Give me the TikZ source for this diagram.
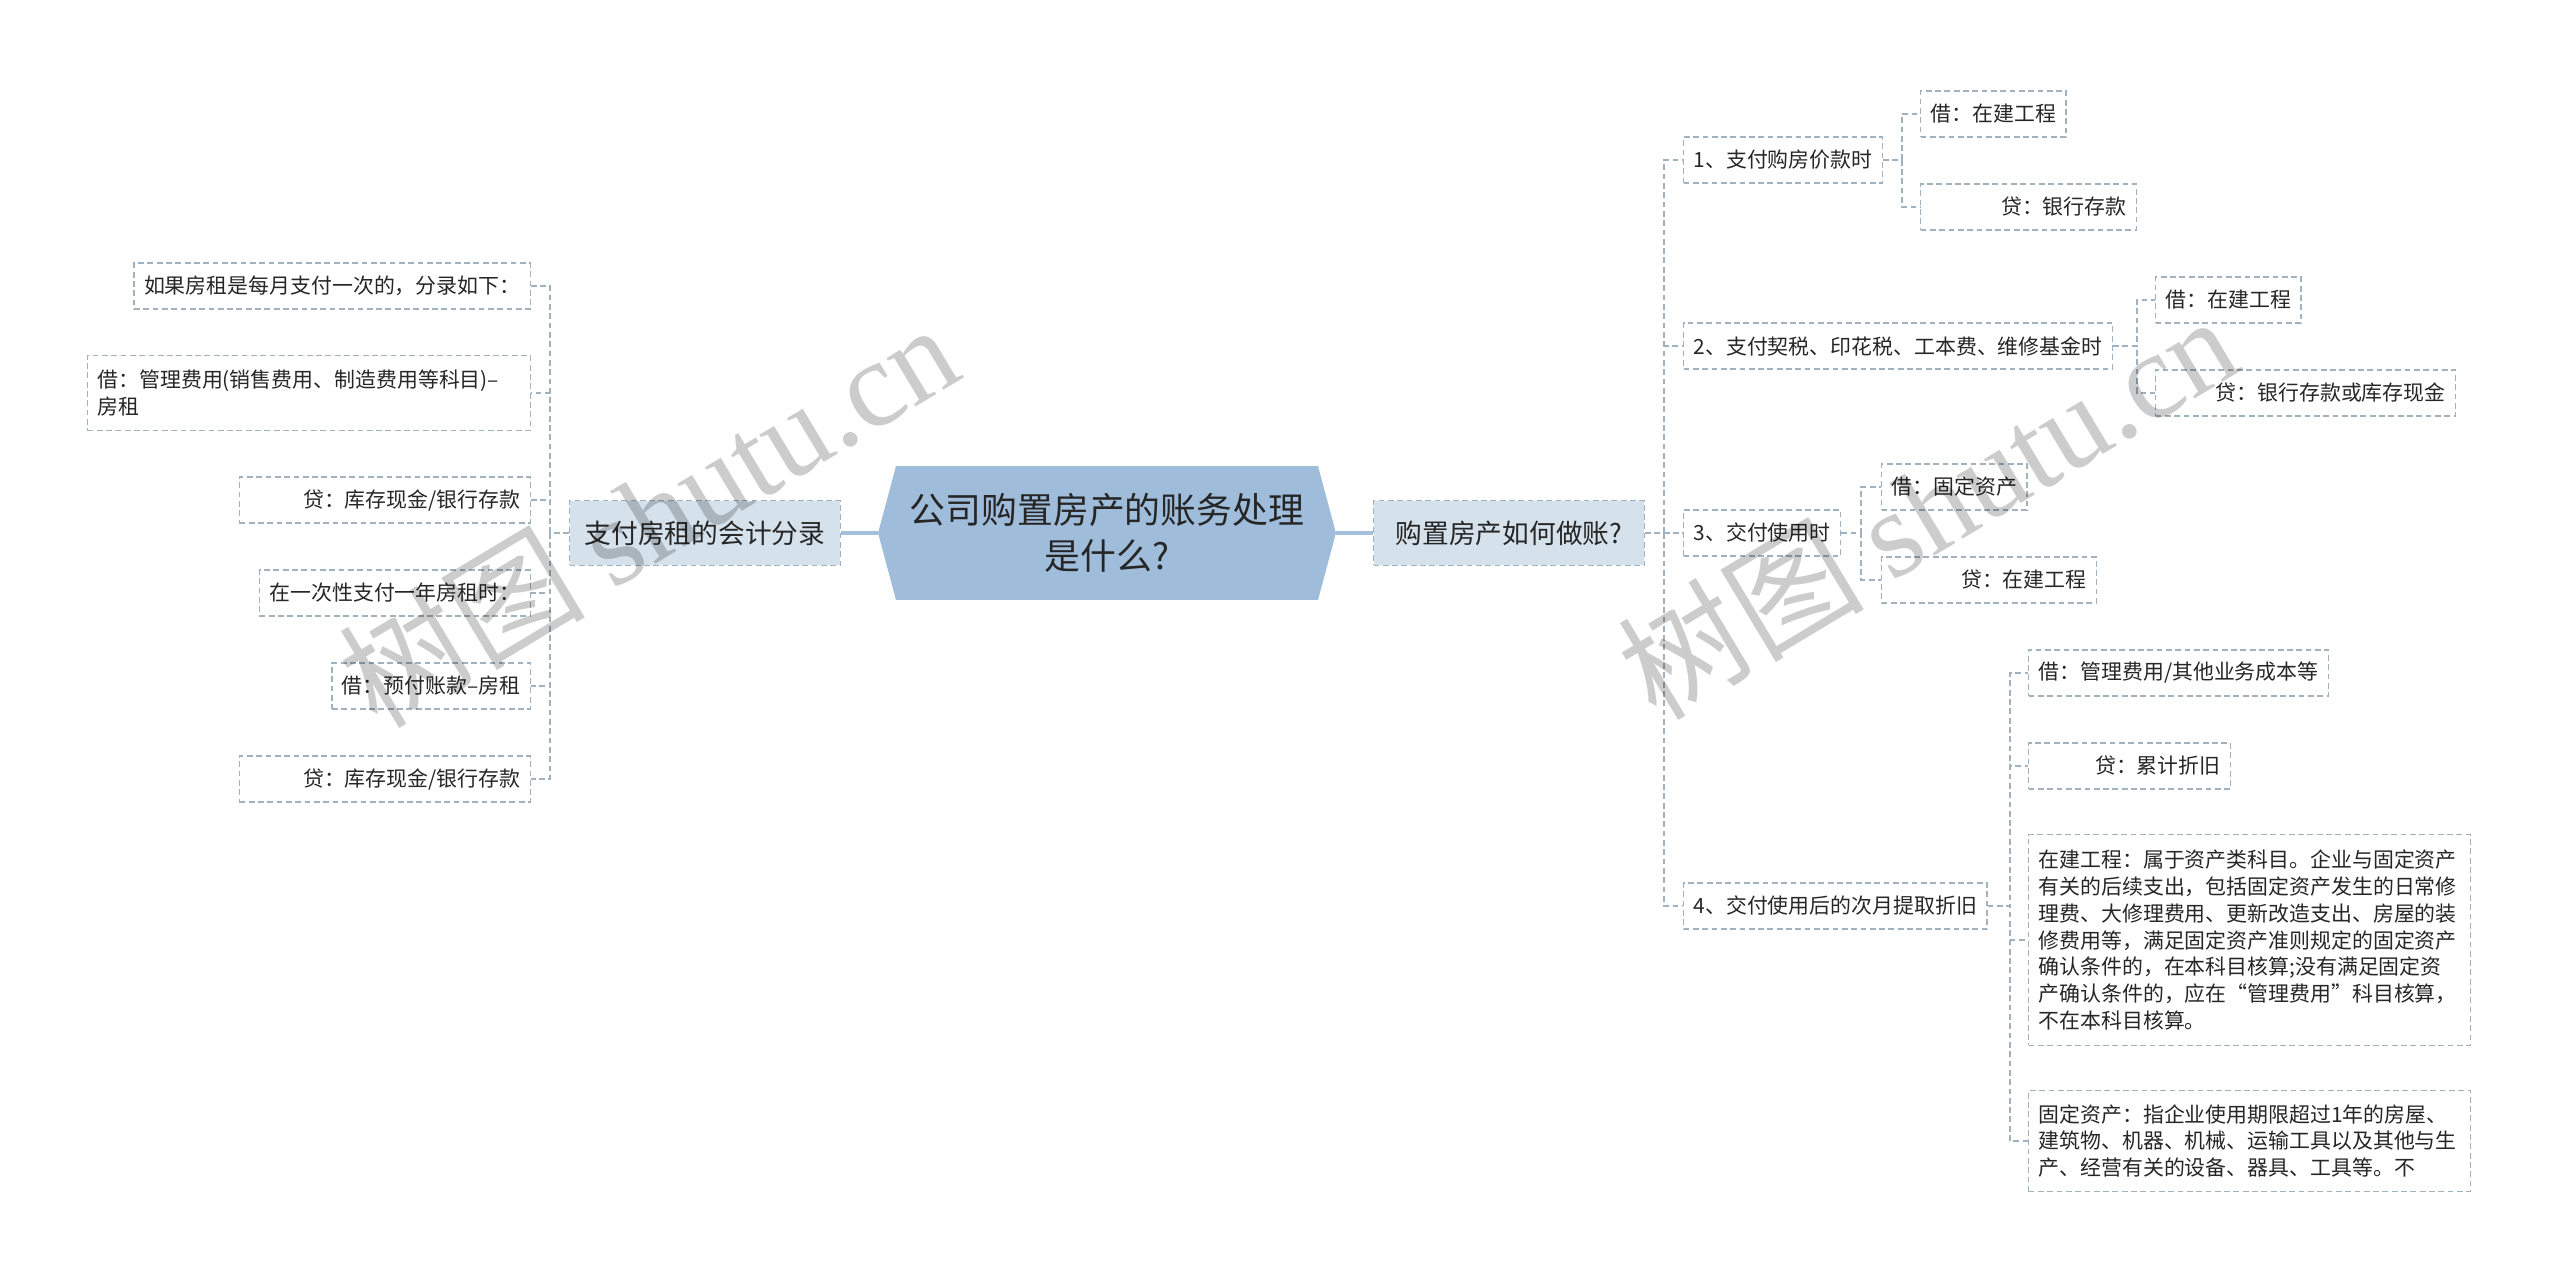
\documentclass[tikz,border=0pt]{standalone}
\usepackage{fontspec}
\setmainfont{Noto Sans CJK SC}
\newfontfamily\wmlatin{Liberation Serif}
\usetikzlibrary{shapes.symbols}
\definecolor{linec}{HTML}{A0B2C0}
\definecolor{rootfill}{HTML}{9FBDDA}
\definecolor{topicfill}{HTML}{D5E1EB}
\definecolor{rootline}{HTML}{A3BFD9}
\tikzset{
  dashln/.style={draw=linec, line width=0.7pt, dash pattern=on 3.3pt off 2pt},
  leafbox/.style={dashln, text=black!85, inner xsep=0.2cm, inner ysep=0.1cm, minimum height=0.92cm, font=\fontsize{11.9pt}{15.3pt}\selectfont},
  leafr/.style={leafbox, align=right, text width=#1},
  leafl/.style={leafbox, align=left, text width=#1},
  topicbox/.style={dashln, fill=topicfill, text=black!85, minimum width=5.42cm, minimum height=1.3cm, font=\fontsize{15.2pt}{18pt}\selectfont},
  rootbox/.style={signal, signal to=east and west, signal pointer angle=150, fill=rootfill, text=black!85, minimum width=9.16cm, minimum height=2.68cm, align=center, font=\fontsize{20.4pt}{26pt}\selectfont},
  rootln/.style={draw=rootline, line width=2.4pt},
  wmark/.style={rotate=31, text=black, text opacity=0.2, font=\fontsize{70pt}{70pt}\selectfont},
}

\begin{document}
\begin{tikzpicture}[x=0.02cm, y=-0.02cm]
\useasboundingbox (0,0) rectangle (2560,1281);
\node[rootbox] (root) at (1107,533) {公司购置房产的账务处理\\是什么?};
\node[topicbox] (rtopic) at (1509,533) {购置房产如何做账?};
\node[topicbox] (ltopic) at (705,533) {支付房租的会计分录};
\draw[rootln] (root.east) -- (rtopic.west);
\draw[rootln] (root.west) -- (ltopic.east);

\node[leafbox, anchor=west] (c1) at (1683,160) {1、支付购房价款时};
\node[leafbox, anchor=west] (c2) at (1683,346) {2、支付契税、印花税、工本费、维修基金时};
\node[leafbox, anchor=west] (c3) at (1683,533) {3、交付使用时};
\node[leafbox, anchor=west] (c4) at (1683,906) {4、交付使用后的次月提取折旧};

\node[leafbox, anchor=west] (g1a) at (1920,114) {借：在建工程};
\node[leafr=3.92cm, anchor=west] (g1b) at (1920,207) {贷：银行存款};
\node[leafbox, anchor=west] (g2a) at (2155,300) {借：在建工程};
\node[leafr=5.6cm, anchor=west] (g2b) at (2155,393) {贷：银行存款或库存现金};
\node[leafbox, anchor=west] (g3a) at (1881,487) {借：固定资产};
\node[leafr=3.9cm, anchor=west] (g3b) at (1881,580) {贷：在建工程};
\node[leafbox, anchor=west] (g4a) at (2028,673) {借：管理费用/其他业务成本等};
\node[leafr=3.64cm, anchor=west] (g4b) at (2028,766) {贷：累计折旧};
\node[leafl=8.44cm, minimum height=4.22cm, anchor=west] (g4c) at (2028,940) {在建工程：属于资产类科目。企业与固定资产\\有关的后续支出，包括固定资产发生的日常修\\理费、大修理费用、更新改造支出、房屋的装\\修费用等，满足固定资产准则规定的固定资产\\确认条件的，在本科目核算;没有满足固定资\\产确认条件的，应在“管理费用”科目核算，\\不在本科目核算。};
\node[leafl=8.44cm, minimum height=2.02cm, anchor=west] (g4d) at (2028,1141) {固定资产：指企业使用期限超过1年的房屋、\\建筑物、机器、机械、运输工具以及其他与生\\产、经营有关的设备、器具、工具等。不};

\node[leafbox, anchor=east] (l1) at (531,286) {如果房租是每月支付一次的，分录如下：};
\node[leafl=8.46cm, minimum height=1.5cm, anchor=east] (l2) at (531,393) {借：管理费用(销售费用、制造费用等科目)–\\房租};
\node[leafr=5.42cm, anchor=east] (l3) at (531,500) {贷：库存现金/银行存款};
\node[leafbox, anchor=east] (l4) at (531,593) {在一次性支付一年房租时：};
\node[leafbox, anchor=east] (l5) at (531,686) {借：预付账款–房租};
\node[leafr=5.42cm, anchor=east] (l6) at (531,779) {贷：库存现金/银行存款};

\coordinate (rt) at (1664,533);
\foreach \n in {c1,c2,c3,c4}
  \draw[dashln] (rtopic.east) -- (rt) |- (\n.west);
\coordinate (lt) at (550,533);
\foreach \n in {l1,l2,l3,l4,l5,l6}
  \draw[dashln] (ltopic.west) -- (lt) |- (\n.east);
\coordinate (t1) at (1902,160);
\foreach \n in {g1a,g1b}
  \draw[dashln] (c1.east) -- (t1) |- (\n.west);
\coordinate (t2) at (2137,346);
\foreach \n in {g2a,g2b}
  \draw[dashln] (c2.east) -- (t2) |- (\n.west);
\coordinate (t3) at (1861,533);
\foreach \n in {g3a,g3b}
  \draw[dashln] (c3.east) -- (t3) |- (\n.west);
\coordinate (t4) at (2010,906);
\foreach \n in {g4a,g4b,g4c,g4d}
  \draw[dashln] (c4.east) -- (t4) |- (\n.west);

\node[wmark] (wm1) at (648,514) {树图 {\wmlatin shutu.cn}};
\node[wmark] (wm2) at (1927,506) {树图 {\wmlatin shutu.cn}};
\end{tikzpicture}
\end{document}
